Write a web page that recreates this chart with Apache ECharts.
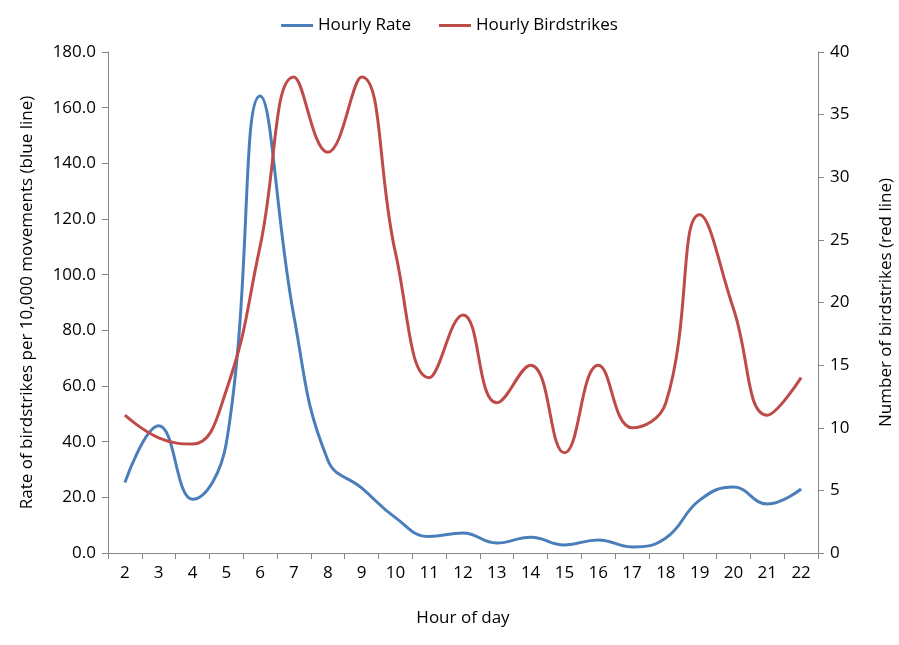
<!DOCTYPE html>
<html><head><meta charset="utf-8">
<script src="https://cdn.jsdelivr.net/npm/echarts@6/dist/echarts.min.js"></script>
<style>html,body{margin:0;padding:0;background:#fff}#c{width:899px;height:645px}</style>
</head><body><div id="c"></div>
<script>
var hours = ['2','3','4','5','6','7','8','9','10','11','12','13','14','15','16','17','18','19','20','21','22'];
var hourlyRate = [25.3,45.7,19.3,39.5,164.2,85.0,33.4,23.4,12.7,5.9,7.2,3.6,5.7,2.9,4.7,2.2,5.4,19.0,23.7,17.6,23.0];
var hourlyBirdstrikes = [11,9.2,8.7,13,24.5,38,32,38,24,14,19,12,15,8,15,10,12,27,19.5,11,14];
var leftTicks = {min:0,max:180,interval:20};
var rightTicks = {min:0,max:40,interval:5};
var F = "'Liberation Sans Narrow','Open Sans',sans-serif";
var axisCol = '#868686';
var chart = echarts.init(document.getElementById('c'));
chart.setOption({
  animation:false,
  textStyle:{fontFamily:F,color:'#000'},
  legend:{top:12,left:'center',itemWidth:32,itemHeight:3,itemGap:28,icon:'rect',
    textStyle:{fontFamily:F,fontSize:17,color:'#000'},
    data:['Hourly Rate','Hourly Birdstrikes']},
  grid:{left:108,right:81,top:52,bottom:92,containLabel:false,outerBoundsMode:'none'},
  xAxis:{type:'category',data:hours,boundaryGap:true,
    name:'Hour of day',nameLocation:'middle',nameGap:57,
    nameTextStyle:{fontFamily:F,fontSize:17,color:'#000'},
    axisLine:{lineStyle:{color:axisCol}},
    axisTick:{show:true,alignWithLabel:false,length:6,lineStyle:{color:axisCol}},
    axisLabel:{fontFamily:F,fontSize:17,color:'#000',margin:12}},
  yAxis:[
    {type:'value',min:leftTicks.min,max:leftTicks.max,interval:leftTicks.interval,
     name:'Rate of birdstrikes per 10,000 movements (blue line)',nameLocation:'middle',nameGap:72,nameRotate:90,
     nameTextStyle:{fontFamily:F,fontSize:17,color:'#000'},
     splitLine:{show:false},
     axisLine:{show:true,lineStyle:{color:axisCol}},
     axisTick:{show:true,length:6,lineStyle:{color:axisCol}},
     axisLabel:{fontFamily:F,fontSize:17,color:'#000',margin:12,formatter:function(v){return v.toFixed(1);}}},
    {type:'value',min:rightTicks.min,max:rightTicks.max,interval:rightTicks.interval,position:'right',
     name:'Number of birdstrikes (red line)',nameLocation:'middle',nameGap:60,nameRotate:90,
     nameTextStyle:{fontFamily:F,fontSize:17,color:'#000'},
     splitLine:{show:false},
     axisLine:{show:true,lineStyle:{color:axisCol}},
     axisTick:{show:true,length:6,lineStyle:{color:axisCol}},
     axisLabel:{fontFamily:F,fontSize:17,color:'#000',margin:12}}
  ],
  series:[
    {name:'Hourly Rate',type:'line',data:hourlyRate,yAxisIndex:0,smooth:0.45,symbol:'none',
     itemStyle:{color:'#4A7EBB'},lineStyle:{width:3,color:'#4A7EBB'}},
    {name:'Hourly Birdstrikes',type:'line',data:hourlyBirdstrikes,yAxisIndex:1,smooth:0.45,symbol:'none',
     itemStyle:{color:'#BE4B48'},lineStyle:{width:3,color:'#BE4B48'}}
  ]
});
</script></body></html>
